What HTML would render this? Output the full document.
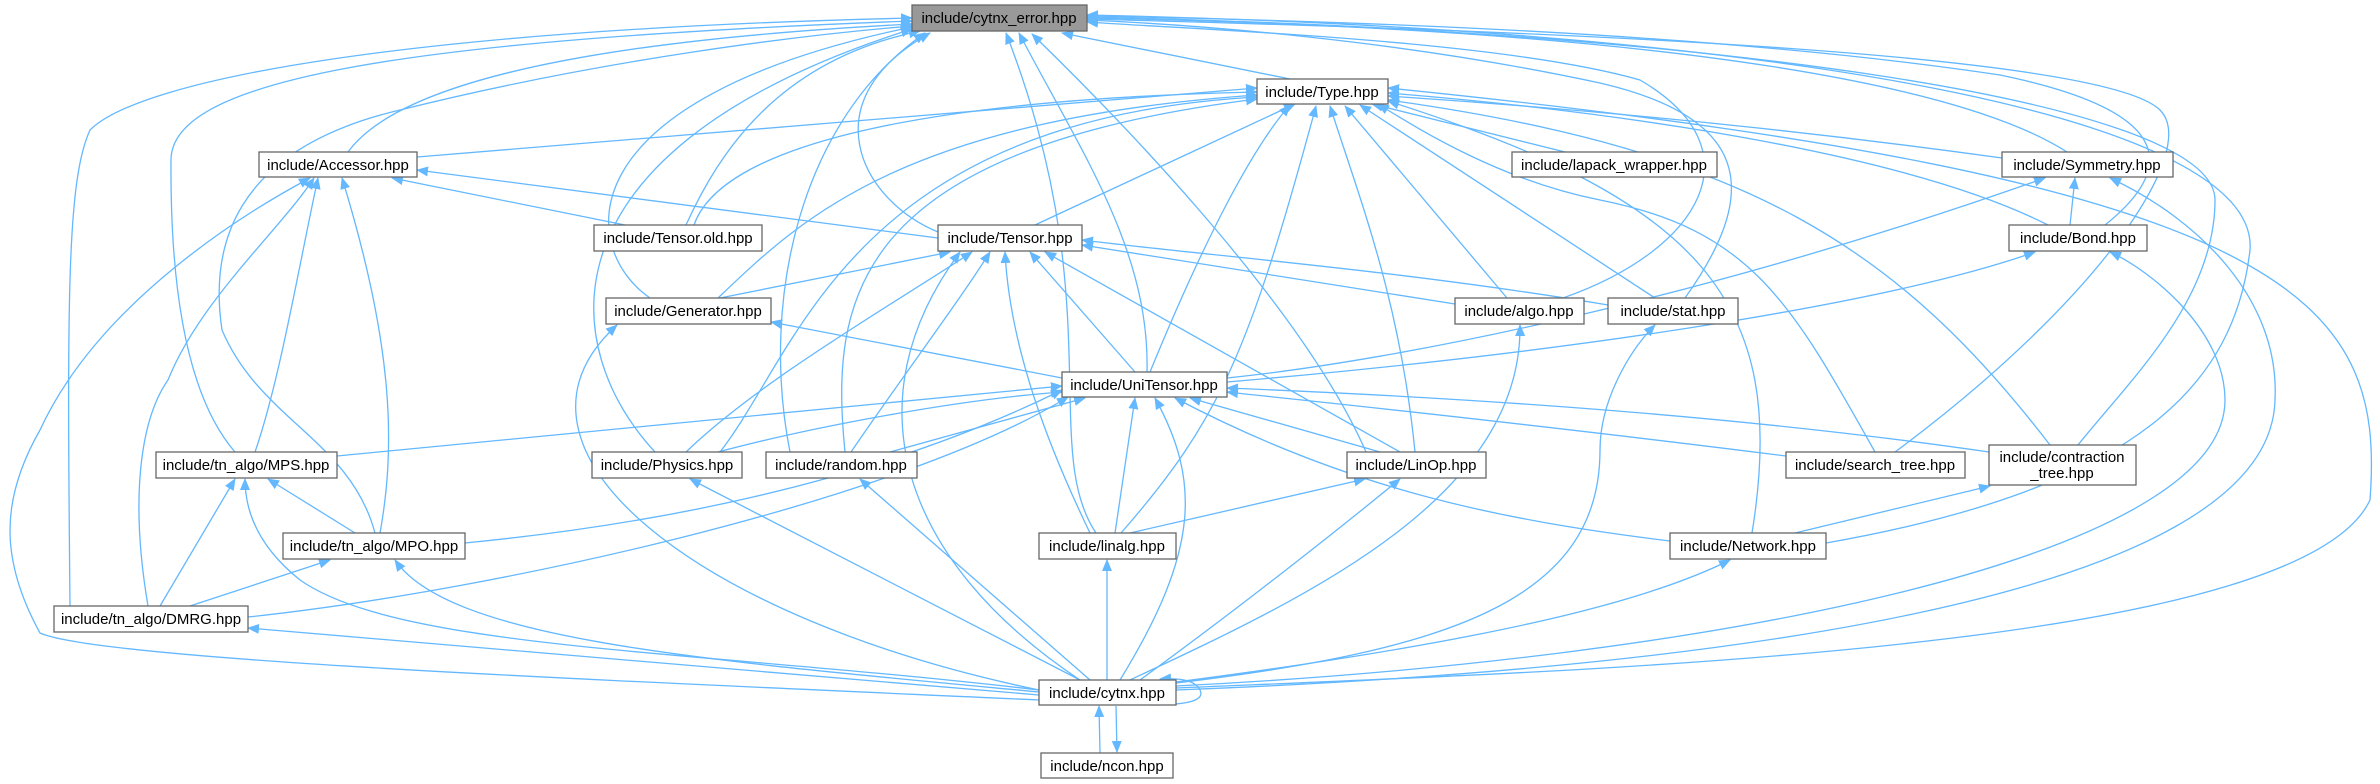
<!DOCTYPE html>
<html><head><meta charset="utf-8"><style>
html,body{margin:0;padding:0;background:#fff;}
svg{display:block;}
text{font-family:"Liberation Sans",sans-serif;font-size:15px;fill:#000;}
</style></head><body>
<svg width="2380" height="784" viewBox="0 0 2380 784" xmlns="http://www.w3.org/2000/svg">
<defs>
<marker id="a" markerUnits="userSpaceOnUse" markerWidth="12" markerHeight="10" refX="11" refY="5" orient="auto">
<path d="M0,0 L12,5 L0,10 z" fill="#63b8ff"/>
</marker>
</defs>
<g fill="none" stroke="#63b8ff" stroke-width="1.3" marker-end="url(#a)">
<path d="M1290 79 L1062 33"/>
<path d="M348 152 C 400 80 600 40 912 24"/>
<path d="M686 225 C 720 150 780 60 920 31"/>
<path d="M938 232 C 860 200 810 100 930 33"/>
<path d="M650 298 C 580 250 560 100 912 27"/>
<path d="M1147 372 C 1150 250 1080 150 1019 33"/>
<path d="M655 452 C 560 350 530 150 912 29"/>
<path d="M790 452 C 760 300 800 120 925 33"/>
<path d="M1096 533 C 1040 450 1110 300 1006 33"/>
<path d="M1366 452 C 1300 300 1100 100 1032 34"/>
<path d="M1563 298 C 1700 250 1760 150 1640 80 C 1500 40 1200 30 1087 22"/>
<path d="M1685 298 C 1755 200 1760 120 1600 83 C 1400 40 1200 25 1087 20"/>
<path d="M2067 152 C 1970 90 1700 30 1087 18"/>
<path d="M2105 225 C 2180 165 2170 110 2000 75 C 1700 30 1300 20 1087 16"/>
<path d="M1895 452 C 2100 300 2200 150 2160 110 C 2100 50 1500 30 1087 19"/>
<path d="M2078 445 C 2130 380 2215 300 2215 200 C 2215 100 1700 30 1087 17"/>
<path d="M1826 543 C 2145 487 2235 380 2250 250 C 2260 120 1800 30 1087 15"/>
<path d="M70 606 C 67 300 67 180 90 130 C 140 80 400 30 912 18"/>
<path d="M235 452 C 190 400 170 300 171 160 C 171 80 400 40 912 21"/>
<path d="M375 533 C 350 440 260 420 222 330 C 210 250 230 150 400 110 C 600 60 800 35 912 26"/>
<path d="M417 157 L1257 88"/>
<path d="M694 225 C 720 150 900 100 1257 92"/>
<path d="M1035 225 L1295 104"/>
<path d="M718 298 C 800 220 900 120 1257 95"/>
<path d="M720 452 C 800 350 850 120 1257 97"/>
<path d="M845 452 C 830 300 850 150 1257 99"/>
<path d="M1150 372 C 1200 250 1250 150 1290 105"/>
<path d="M1121 533 C 1220 420 1250 350 1316 106"/>
<path d="M1415 452 C 1400 300 1360 200 1330 106"/>
<path d="M1507 298 L1345 106"/>
<path d="M1655 298 L1360 105"/>
<path d="M1565 152 L1372 104"/>
<path d="M2002 158 C 1800 130 1600 110 1388 96"/>
<path d="M2048 225 C 1900 150 1600 110 1388 93"/>
<path d="M1875 452 C 1790 300 1750 230 1600 200 C 1500 180 1420 130 1378 104"/>
<path d="M2050 445 C 1900 250 1750 150 1388 100"/>
<path d="M1752 533 C 1790 300 1700 200 1388 101"/>
<path d="M1176 688 C 1600 670 2300 650 2370 500 C 2385 300 2300 180 1388 88"/>
<path d="M938 238 L417 170"/>
<path d="M625 225 L392 178"/>
<path d="M255 452 C 280 380 300 260 318 178"/>
<path d="M380 533 C 395 450 395 350 342 178"/>
<path d="M148 606 C 130 500 140 420 168 380 C 200 300 280 230 314 178"/>
<path d="M1039 700 C 600 680 100 660 40 633 C 0 560 0 500 40 430 C 100 300 250 210 310 178"/>
<path d="M720 298 L950 252"/>
<path d="M686 452 C 760 380 900 300 972 252"/>
<path d="M851 452 C 900 380 960 300 990 252"/>
<path d="M1090 533 C 1050 450 1010 350 1005 252"/>
<path d="M1135 372 L1030 252"/>
<path d="M1400 452 L1045 252"/>
<path d="M1455 304 L1082 245"/>
<path d="M1608 305 C 1400 270 1200 255 1082 240"/>
<path d="M1080 680 C 900 560 850 400 960 252"/>
<path d="M2070 225 L2075 178"/>
<path d="M1227 378 C 1400 360 1700 300 2045 178"/>
<path d="M1176 690 C 1700 670 2270 600 2275 400 C 2280 300 2200 220 2110 178"/>
<path d="M1227 382 C 1600 350 1900 300 2035 252"/>
<path d="M1176 686 C 1700 660 2225 560 2225 400 C 2225 330 2150 270 2110 252"/>
<path d="M1062 378 L771 322"/>
<path d="M1039 690 C 700 620 480 450 617 325"/>
<path d="M337 456 L1062 386"/>
<path d="M465 543 C 700 520 900 470 1062 390"/>
<path d="M248 617 C 500 590 900 500 1068 397"/>
<path d="M718 452 C 800 430 950 400 1062 392"/>
<path d="M890 452 L1085 398"/>
<path d="M1115 533 L1135 398"/>
<path d="M1380 452 L1190 398"/>
<path d="M1786 456 C 1500 420 1300 400 1227 392"/>
<path d="M1989 452 C 1700 410 1400 395 1227 388"/>
<path d="M1670 541 C 1500 520 1350 490 1175 398"/>
<path d="M1120 680 C 1200 550 1200 480 1155 398"/>
<path d="M1130 680 C 1300 600 1522 500 1520 325"/>
<path d="M1176 683 C 1450 650 1600 600 1600 450 C 1600 400 1630 350 1655 325"/>
<path d="M1080 680 L690 479"/>
<path d="M1090 680 L860 479"/>
<path d="M1130 533 L1365 479"/>
<path d="M1140 680 C 1250 600 1350 520 1400 479"/>
<path d="M1107 680 L1107 560"/>
<path d="M1795 533 L1990 486"/>
<path d="M1176 682 C 1500 640 1650 600 1730 560"/>
<path d="M355 533 L268 479"/>
<path d="M160 606 L235 479"/>
<path d="M1039 690 C 700 650 400 650 300 580 C 250 540 245 500 245 479"/>
<path d="M190 606 L330 560"/>
<path d="M1039 692 C 700 660 450 640 395 560"/>
<path d="M1039 695 L248 628"/>
<path d="M1100 753 L1099 706"/>
<path d="M1116 706 L1117 752"/>
<path d="M1150 705 C 1190 705 1205 700 1200 690 C 1195 680 1180 678 1160 679"/>
</g>
<g stroke="#666" stroke-width="1.3" fill="#fff">
<rect x="912" y="5" width="175" height="26" fill="#999"/>
<rect x="1257" y="79" width="131" height="25"/>
<rect x="259" y="152" width="158" height="25"/>
<rect x="594" y="225" width="168" height="26"/>
<rect x="938" y="225" width="144" height="26"/>
<rect x="1512" y="152" width="205" height="25"/>
<rect x="2002" y="152" width="171" height="25"/>
<rect x="2009" y="225" width="138" height="26"/>
<rect x="606" y="298" width="165" height="26"/>
<rect x="1455" y="298" width="129" height="26"/>
<rect x="1608" y="298" width="130" height="26"/>
<rect x="1062" y="372" width="165" height="25"/>
<rect x="156" y="452" width="181" height="26"/>
<rect x="592" y="452" width="150" height="26"/>
<rect x="766" y="452" width="151" height="26"/>
<rect x="1347" y="452" width="139" height="26"/>
<rect x="1786" y="452" width="179" height="26"/>
<rect x="1989" y="445" width="147" height="40"/>
<rect x="283" y="533" width="182" height="26"/>
<rect x="1039" y="533" width="137" height="26"/>
<rect x="1670" y="533" width="156" height="26"/>
<rect x="54" y="606" width="194" height="26"/>
<rect x="1039" y="680" width="137" height="25"/>
<rect x="1041" y="753" width="132" height="25"/>
</g>
<g text-anchor="middle">
<text x="999" y="23">include/cytnx_error.hpp</text>
<text x="1322" y="97">include/Type.hpp</text>
<text x="338" y="170">include/Accessor.hpp</text>
<text x="678" y="243">include/Tensor.old.hpp</text>
<text x="1010" y="243">include/Tensor.hpp</text>
<text x="1614" y="170">include/lapack_wrapper.hpp</text>
<text x="2087" y="170">include/Symmetry.hpp</text>
<text x="2078" y="243">include/Bond.hpp</text>
<text x="688" y="316">include/Generator.hpp</text>
<text x="1519" y="316">include/algo.hpp</text>
<text x="1673" y="316">include/stat.hpp</text>
<text x="1144" y="390">include/UniTensor.hpp</text>
<text x="246" y="470">include/tn_algo/MPS.hpp</text>
<text x="667" y="470">include/Physics.hpp</text>
<text x="841" y="470">include/random.hpp</text>
<text x="1416" y="470">include/LinOp.hpp</text>
<text x="1875" y="470">include/search_tree.hpp</text>
<text x="2062" y="462">include/contraction</text>
<text x="2062" y="478">_tree.hpp</text>
<text x="374" y="551">include/tn_algo/MPO.hpp</text>
<text x="1107" y="551">include/linalg.hpp</text>
<text x="1748" y="551">include/Network.hpp</text>
<text x="151" y="624">include/tn_algo/DMRG.hpp</text>
<text x="1107" y="698">include/cytnx.hpp</text>
<text x="1107" y="771">include/ncon.hpp</text>
</g>
</svg>
</body></html>
